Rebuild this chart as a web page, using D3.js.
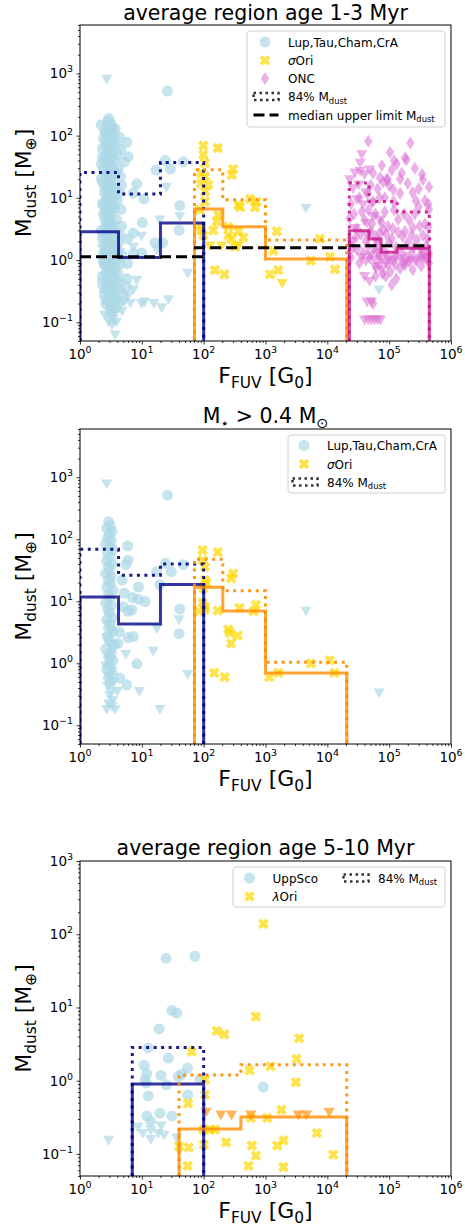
<!DOCTYPE html>
<html>
<head>
<meta charset="utf-8">
<script src="https://cdn.jsdelivr.net/npm/d3@7"></script>
<style>
  body { margin: 0; background: #fff; }
  svg { display: block; font-family: 'DejaVu Sans', sans-serif; }
</style>
</head>
<body>
<svg id="chart" width="465" height="1227"></svg>
<script>
// ---------------- data (F_FUV [G0], M_dust [M_earth]) ----------------

// panel 1 : average region age 1-3 Myr
const lupDet1 = [
  [26,520],[2.9,188],[5.7,78],[6,46],[5.2,38],[24,40],[17,28],[29,29],[47,38],[8.3,16.8],
  [10.8,9.6],[7.3,11.9],[41,7.5],[40,3.0],[10.2,4.0],[7.3,2.7],[16.3,1.9],[21.7,1.9],[5.9,2.2],
  [7.3,1.28],[9.9,1.3],[5.9,0.88],[5.7,0.37],[5.7,0.5],
  [3.1,160],[2.7,140],[3.3,130],[2.5,120],[3.0,115],[2.8,100],[3.5,105],[2.4,90],[3.2,88],[2.6,75],
  [3.0,70],[3.8,72],[2.3,62],[2.9,58],[3.4,55],[2.7,48],[3.1,45],[4.0,50],[2.5,42],[3.6,40],
  [2.8,36],[3.3,33],[2.4,30],[3.0,28],[4.2,30],[2.6,25],[3.5,24],[2.9,21],[3.2,19],[2.3,18],
  [4.5,22],[2.7,16],[3.4,15],[3.0,13],[2.5,12],[3.8,14],[2.8,11],[3.3,10],[2.6,9],[3.1,8.5],
  [4.0,9],[2.4,7.5],[2.9,7],[3.6,6.8],[2.7,6],[3.2,5.5],[2.5,5],[3.0,4.6],[3.9,4.5],[2.8,4],
  [3.4,3.6],[2.6,3.3],[3.1,3],[2.4,2.7],[2.9,2.5],[3.6,2.4],[2.7,2.2],[3.3,2],[2.5,1.8],[3.0,1.7],
  [4.2,1.9],[2.8,1.5],[3.5,1.4],[2.6,1.3],[3.1,1.2],[2.9,1.05],[3.7,1.0],[2.4,0.95],[3.2,0.9],
  [2.7,0.8],[4.4,0.85],[3.0,0.72],[3.5,0.65],[2.6,0.6],[3.2,0.55],[2.8,0.5],[3.9,0.47],[3.0,0.42],
  [2.7,0.37],[3.4,0.33],[3.1,0.28],[2.9,0.24],[3.6,0.21],[3.2,0.18],
  [2.8,170],[3.2,145],[2.6,110],[3.0,95],[3.4,80],[2.7,66],[3.1,62],[2.9,52],[3.3,44],[2.6,38],
  [3.0,34],[2.8,31],[3.2,27],[2.7,23],[3.1,20],[2.5,15],[2.9,14],[3.3,12],[2.7,10.5],[3.0,9.5],
  [3.4,8],[2.8,6.5],[3.0,5.8],[2.6,4.2],[3.2,3.9],[2.9,3.2],[3.3,2.8],[2.8,1.9],[3.2,1.6],[2.7,1.1],
  [2.2,35],[4.6,60],[2.3,8],[4.4,12],[2.2,3],[4.7,3.5],[2.4,1.3],[4.8,1.2],[2.3,0.55],[4.3,0.35],
  [2.5,0.3],[3.8,0.25],[2.2,150],[3.7,130],[4.3,95],[2.3,45],[3.9,26],[4.7,16],[2.2,20],[3.6,11],
  [2.4,5.5],[4.6,6.5],[3.5,3.2],[4.3,2.6],[2.3,2.2],[3.9,1.6],[2.5,0.85],[3.6,0.75],[4.1,0.6],
  [2.3,0.45],[3.5,0.38],[2.6,0.2],[3.9,0.17],[4.9,0.28]
];
const lupUL1 = [
  [2.7,800],[25,14.8],[41,5.0],[19.6,4.4],[17.4,1.45],[7.3,1.6],[9.9,2.4],[55,0.61],[8.3,0.47],
  [7.3,0.33],[5.9,0.26],[9.9,0.2],[11,0.21],[15.6,0.2],[21,0.17],[27,0.23],[3.7,0.062],[3.4,0.14],
  [4500,6.8],[68600,0.33],
  [2.8,3.5],[3.3,2.8],[2.6,2.1],[3.1,1.6],[3.6,1.25],[2.7,1.0],[3.2,0.8],[2.5,0.7],[3.8,0.62],
  [2.9,0.55],[3.4,0.45],[2.6,0.4],[3.0,0.35],[3.7,0.3],[2.8,0.27],[3.3,0.24],[4.1,0.22],[2.7,0.2],
  [3.1,0.18],[3.5,0.16],[2.9,0.15],[3.3,0.13],[3.0,0.12],[3.4,0.11],[3.7,0.14],[4.5,0.19],
  [5.2,0.21],[6.5,0.2],
  [2.3,1.5],[4.4,1.3],[2.4,0.85],[4.2,0.9],[2.3,0.33],[4.6,0.42],[2.5,0.13],[3.9,0.1],[2.4,0.23],
  [4.8,0.15],[3.3,0.09],[2.9,0.1]
];
const sigDet1 = [
  [99,69],[169,63],[99,49],[105,36],[300,29],[284,23.5],[91,25],[105,22],[119,16.2],[90,17],
  [105,12.6],[105,8.7],[365,7.7],[387,7.1],[562,9.6],[676,7.1],[720,8.7],[87,6.4],[172,5.3],
  [143,3.0],[93,3.0],[99,2.5],[251,3.4],[365,2.9],[438,2.3],[284,2.2],[321,1.64],[1520,2.9],
  [1340,1.41],[7600,2.2],[5450,0.98],[11000,1.13],[13300,0.71],[152,0.69],[216,0.59],[1180,0.59],
  [1610,0.69],[163,4.15],[88,3.4],[251,2.5]
];
const sigUL1 = [[126,1.68],[195,1.68],[365,1.68],[1870,0.42]];
const oncDet1 = [
  [46000,81],[220000,76],[103000,54],[180000,44],[132000,35],[76000,33],[95000,20],[71000,21],
  [350000,19.5],[117000,13.5],[150000,11.9],[240000,12.2],[430000,7.9],[120000,6.4],[300000,7.2],
  [55000,8.7],[117000,8.7],[46000,6.4],[40000,4.4],[210000,4.4],[23000,4.7],[430000,3.4],
  [310000,3.5],[230000,2.5],[165000,2.4],[110000,2.2],[110000,0.40],[55000,0.20],[150000,0.73],
  [180000,0.83],[360000,1.28],[71000,0.88],
  [30000,3.2],[35000,2.6],[42000,2.0],[50000,2.9],[60000,2.4],[65000,1.8],[80000,3.0],[90000,2.6],
  [100000,1.9],[130000,1.6],[140000,2.8],[200000,1.9],[250000,1.6],[280000,2.1],[330000,1.5],
  [400000,1.7],[26000,1.6],[38000,1.3],[48000,1.1],[57000,1.5],[68000,1.2],[85000,1.4],[95000,1.1],
  [125000,1.2],[160000,1.3],[190000,1.1],[230000,1.3],[270000,1.0],[320000,1.2],[380000,1.1],
  [440000,1.3],[33000,0.9],[62000,0.75],[78000,0.6],[88000,0.55],[105000,0.65],[130000,0.5],
  [170000,0.9],[210000,0.95],[60000,5.5],[75000,4.0],[85000,6.0],[95000,3.5],[140000,4.5],
  [175000,5.5],[260000,5.5],[380000,3.8],[440000,6.5],[33000,10],[45000,12],[65000,14],[85000,10],
  [100000,16],[200000,17],[270000,9],[55000,25],[80000,18],[160000,25],[260000,30],[340000,24],
  [440000,15],[120000,40],[91000,19.5],[190000,41],
  [24000,8],[27000,5.5],[36000,6],[50000,16],[70000,10],[110000,28],[150000,20],[300000,14],
  [380000,9],[24000,1.1],[29000,2.3],[45000,1.7],[53000,3.8],[70000,2.7],[115000,3.2],[180000,2.9],
  [240000,3.3],[350000,2.5],[420000,2.2],[60000,0.55],[125000,0.85],[240000,0.7],[330000,0.8],
  [440000,0.9]
];
const oncUL1 = [
  [36000,49],[34000,36],[23000,19.5],[28000,25],[34000,26.5],[40000,23.5],[48000,28],[30000,9.3],
  [38000,7.7],[52000,8.2],[55000,5.0],[71000,4.4],[44000,3.9],[59000,0.78],[40000,0.54],[76000,0.69],
  [44000,0.21],[52000,0.21],[40000,0.108],[46000,0.108],[52000,0.108],[58000,0.108],[65000,0.108],
  [72000,0.108],[26000,14],[32000,16],[42000,12],[25000,2.0],[30000,1.4],[36000,1.1],[42000,0.95],
  [50000,1.2],[58000,1.0],[66000,1.3],[75000,1.05],[90000,0.9],[105000,1.0],[120000,0.95],
  [150000,1.05],[180000,0.9],[220000,1.0],[280000,0.95],[350000,1.05],[420000,1.0],[28000,3.2],
  [45000,2.5],[62000,2.0],[48000,0.45],[95000,0.8]
];
// binned medians / 84th percentiles
const lupEdges = [1, 4.2, 20, 100];
const lupMed1 = [2.86, 1.1, 3.95];
const lupP84_1 = [25.6, 11.5, 37];
const sigEdges = [71, 204, 1000, 20600];
const sigMed1 = [6.6, 3.44, 1.04];
const sigP84_1 = [28.3, 9.3, 2.1];
const oncEdges = [22700, 47200, 73900, 135000, 446000];
const oncMed = [2.96, 2.18, 1.33, 1.55];
const oncP84 = [17.3, 8.7, 8.7, 5.9];
const upperLimitMed1 = [[1, 100, 1.13], [70, 20600, 1.58], [22700, 446000, 1.7]];

// panel 2 : M* > 0.4 Msun
const lupDet2 = [
  [26,515],[2.9,192],[5.9,78],[6.0,46],[5.5,39],[24,41],[30,30],[47,39],[17.4,30],[4.8,22],
  [8.8,17],[5.2,13.5],[7.1,11.5],[11.3,9.9],[19.6,18.4],[41,7.5],[5.0,8.2],[6.0,6.9],[40,3.0],
  [7.3,2.7],[6.0,2.6],[4.1,2.1],[8.3,0.98],[5.7,0.45],[4.4,0.58],[4.3,3.2],[8.8,10.8],[6.9,7.3],
  [3.1,165],[2.7,150],[3.3,135],[3.0,120],[2.8,105],[3.2,95],[2.6,85],[3.0,75],[3.4,68],[2.8,60],
  [3.1,52],[2.7,45],[3.3,40],[2.9,36],[3.0,31],[2.6,28],[3.2,25],[2.9,22],[3.1,19],[2.7,17],
  [3.4,15],[2.9,13],[3.0,11],[2.6,9.5],[3.2,8.5],[2.8,7.5],[3.0,6.5],[3.3,5.5],[2.7,5.0],[3.1,4.3],
  [2.9,3.7],[3.4,3.2],[2.8,2.7],[3.0,2.3],[3.6,2.0],[2.6,1.7],[3.2,1.45],[2.9,1.25],[3.4,1.1],
  [3.0,0.95],[2.7,0.8],[3.3,0.7],[2.9,0.58],[3.1,0.5]
];
const lupUL2 = [
  [2.7,776],[40,5.0],[17.4,3.6],[5.5,1.38],[15.3,1.56],[55,0.66],[9.1,0.35],[19.6,0.18],[4500,6.9],
  [69000,0.33],[4.0,0.35],[2.7,0.18],[3.7,0.18],
  [2.9,4.2],[3.2,3.3],[2.7,2.6],[3.0,2.0],[3.4,1.6],[2.8,1.3],[3.1,1.1],[2.6,0.9],[3.3,0.75],
  [2.9,0.62],[3.5,0.5],[2.8,0.42],[3.2,0.35],[3.0,0.3],[3.4,0.25],[2.9,0.22],[3.3,0.2]
];
const sigDet2 = [
  [96,67],[169,62],[96,46],[105,36],[105,22],[111,19.6],[99,16.3],[300,28],[278,23.5],[96,9.5],
  [105,7.3],[84,6.9],[105,8.2],[169,7.1],[380,7.8],[640,6.9],[700,8.8],[250,3.5],[265,3.1],
  [356,2.8],[278,2.1],[149,0.70],[220,0.6],[1150,0.6],[1610,0.70],[5450,1.0],[11000,1.12],[13000,0.70]
];
const lupMed2 = [11.7, 4.3, 18.6];
const lupP84_2 = [69, 26.4, 40];
const sigMed2 = [16.9, 7.0, 0.70];
const sigP84_2 = [47.7, 14.8, 1.04];

// panel 3 : average region age 5-10 Myr
const uscDet = [
  [24.6,47],[72,50],[30.5,9.1],[36.7,8.4],[19,5.1],[12.7,2.8],[26.8,2.04],[10.9,1.62],[55,1.49],
  [12,1.25],[20.4,1.18],[39,1.14],[44,1.23],[11.3,1.03],[11.7,0.93],[25,0.88],[87,1.05],[920,0.82],
  [12.7,0.62],[55,0.64],[19.6,0.36],[30.5,0.33],[12,0.33],[13.9,0.28]
];
const uscUL = [
  [2.9,0.153],[8.6,0.23],[10.4,0.19],[14,0.21],[20.4,0.24],[18.5,0.19],[22.9,0.18],[14,0.157],[36.6,0.165]
];
const lamDet = [
  [925,139],[700,7.5],[163,4.8],[216,4.3],[3500,3.8],[64,2.5],[3170,1.98],[550,1.38],[1200,1.57],
  [105,1.03],[3100,0.95],[105,0.64],[56,0.49],[1810,0.40],[99,0.215],[127,0.215],[152,0.215],
  [580,0.31],[1070,0.31],[230,0.144],[101,0.134],[40,0.127],[57,0.123],[600,0.13],[1550,0.13],
  [1960,0.153],[6800,0.193],[12500,0.098],[700,0.095],[55,0.069],[530,0.069],[1950,0.066]
];
const lamUL = [[109,0.37],[189,0.34],[283,0.34],[580,0.34],[3400,0.34],[4600,0.34],[10700,0.37]];
const uscEdges = [7, 100];
const uscMed = [0.9];
const uscP84 = [2.85];
const lamEdges = [40, 400, 20600];
const lamMed = [0.22, 0.32];
const lamP84 = [1.2, 1.65];

// ---------------- styling ----------------
const C = {
  lup: '#add8e6', gold: '#ffd700', orange: '#ff8c00', onc: '#da70d6',
  blue: '#00008b', navy: '#000080', mag: '#c71585'
};

const markerX = (() => {
  const a = 5.6, t = 2.0;
  const pts = [[-t,-a],[t,-a],[t,-t],[a,-t],[a,t],[t,t],[t,a],[-t,a],[-t,t],[-a,t],[-a,-t],[-t,-t]]
    .map(([px, py]) => [(px - py) / Math.SQRT2, (px + py) / Math.SQRT2]);
  return 'M' + pts.map(p => p.join(',')).join('L') + 'Z';
})();
const shapes = {
  circle: d3.symbol().type(d3.symbolCircle).size(95)(),
  tri: 'M-5.6,-4.6L5.6,-4.6L0,5.2Z',
  x: markerX,
  diamond: 'M0,-6.5L4.2,0L0,6.5L-4.2,0Z'
};

const svg = d3.select('#chart');
const X0 = 80, X1 = 451;

function rich(sel, parts, size) {
  let shift = 0;
  parts.forEach(([t, kind]) => {
    const ts = sel.append('tspan').text(t);
    let target = 0, fs = size;
    if (kind === 'sub') { target = size * 0.24; fs = size * 0.7; }
    if (kind === 'sup') { target = -size * 0.45; fs = size * 0.7; }
    if (kind === 'it') ts.attr('font-style', 'italic');
    ts.attr('dy', target - shift).attr('font-size', fs);
    shift = target;
  });
}

const isPow10 = v => Math.abs(Math.log10(v) - Math.round(Math.log10(v))) < 1e-9;

function stepPoints(edges, values, base) {
  const pts = [[edges[0], base]];
  values.forEach((v, i) => { pts.push([edges[i], v]); pts.push([edges[i + 1], v]); });
  pts.push([edges[edges.length - 1], base]);
  return pts;
}

function drawPanel(p, idx) {
  const x = d3.scaleLog().domain([1, 1e6]).range([X0, X1]);
  const y = d3.scaleLog().domain([0.05, p.yMax]).range([p.bottom, p.top]);
  const g = svg.append('g');

  svg.append('clipPath').attr('id', 'clip' + idx)
    .append('rect').attr('x', X0).attr('y', p.top).attr('width', X1 - X0).attr('height', p.bottom - p.top);
  const plot = g.append('g').attr('clip-path', `url(#clip${idx})`);

  // scatter layers
  p.layers.forEach(s => {
    plot.append('g').selectAll('path').data(s.data).join('path')
      .attr('d', shapes[s.shape])
      .attr('transform', d => `translate(${x(d[0])},${y(d[1])})`)
      .attr('fill', s.color).attr('fill-opacity', s.alpha);
  });

  const line = d3.line().x(d => x(d[0])).y(d => y(d[1]));
  p.steps.forEach(st => {
    plot.append('path')
      .attr('d', line(stepPoints(st.edges, st.values, 0.05)))
      .attr('fill', 'none').attr('stroke', st.color).attr('stroke-opacity', st.alpha || 1)
      .attr('stroke-width', 3).attr('stroke-dasharray', st.dash || null);
  });
  (p.ul || []).forEach(s => {
    plot.append('line')
      .attr('x1', x(s[0])).attr('x2', x(s[1])).attr('y1', y(s[2])).attr('y2', y(s[2]))
      .attr('stroke', '#000').attr('stroke-width', 3).attr('stroke-dasharray', '11,5');
  });

  // axes
  const xt = x.ticks(), yt = y.ticks();
  const xAxis = g.append('g').attr('transform', `translate(0,${p.bottom})`);
  xAxis.call(d3.axisBottom(x).tickValues(xt.filter(isPow10)).tickFormat('').tickSizeInner(3.5).tickSizeOuter(0));
  xAxis.append('g').call(d3.axisBottom(x).tickValues(xt.filter(v => !isPow10(v))).tickFormat('').tickSize(2));
  const yAxis = g.append('g').attr('transform', `translate(${X0},0)`);
  yAxis.call(d3.axisLeft(y).tickValues(yt.filter(isPow10)).tickFormat('').tickSizeInner(3.5).tickSizeOuter(0));
  yAxis.append('g').call(d3.axisLeft(y).tickValues(yt.filter(v => !isPow10(v))).tickFormat('').tickSize(2));
  g.selectAll('.domain').remove();
  g.selectAll('.tick line').attr('stroke', '#000').attr('stroke-width', 0.8);

  xt.filter(isPow10).forEach(v => {
    const e = Math.round(Math.log10(v));
    const t = g.append('text').attr('x', x(v)).attr('y', p.bottom + 18).attr('text-anchor', 'middle');
    rich(t, [['10', 'n'], [String(e).replace('-', '\u2212'), 'sup']], 13.5);
  });
  yt.filter(isPow10).forEach(v => {
    const e = Math.round(Math.log10(v));
    const t = g.append('text').attr('x', X0 - 7).attr('y', y(v) + 5).attr('text-anchor', 'end');
    rich(t, [['10', 'n'], [String(e).replace('-', '\u2212'), 'sup']], 13.5);
  });

  g.append('rect').attr('x', X0).attr('y', p.top).attr('width', X1 - X0).attr('height', p.bottom - p.top)
    .attr('fill', 'none').attr('stroke', '#000').attr('stroke-width', 1);

  // titles & labels
  const tt = g.append('text').attr('x', (X0 + X1) / 2).attr('y', p.titleY).attr('text-anchor', 'middle');
  rich(tt, p.title, 20.5);
  const xl = g.append('text').attr('x', (X0 + X1) / 2).attr('y', p.bottom + 42).attr('text-anchor', 'middle');
  rich(xl, [['F', 'n'], ['FUV', 'sub'], [' [G', 'n'], ['0', 'sub'], [']', 'n']], 22);
  const yl = g.append('text').attr('text-anchor', 'middle')
    .attr('transform', `translate(31,${(p.top + p.bottom) / 2}) rotate(-90)`);
  rich(yl, [['M', 'n'], ['dust', 'sub'], [' [M', 'n'], ['\u2295', 'sub'], [']', 'n']], 22);

  // legend
  const L = p.legend;
  const lg = g.append('g');
  lg.append('rect').attr('x', L.x).attr('y', L.y).attr('width', L.w).attr('height', L.h).attr('rx', 3)
    .attr('fill', '#fff').attr('fill-opacity', 0.8).attr('stroke', '#d0d0d0');
  L.items.forEach(it => {
    if (it.kind === 'marker') {
      lg.append('path').attr('d', shapes[it.shape]).attr('transform', `translate(${it.mx},${it.y})`)
        .attr('fill', it.color).attr('fill-opacity', it.alpha);
    } else if (it.kind === 'dotbox') {
      lg.append('rect').attr('x', it.mx - 12.5).attr('y', it.y - 3.5).attr('width', 25).attr('height', 7)
        .attr('fill', 'none').attr('stroke', '#333').attr('stroke-width', 2.5).attr('stroke-dasharray', '2.5,3.5');
    } else if (it.kind === 'dash') {
      lg.append('line').attr('x1', it.mx - 12.5).attr('x2', it.mx + 12.5).attr('y1', it.y).attr('y2', it.y)
        .attr('stroke', '#000').attr('stroke-width', 3).attr('stroke-dasharray', '11,5');
    }
    const t = lg.append('text').attr('x', it.tx).attr('y', it.y + 4.5);
    rich(t, it.label, 12);
  });
}

const lupLayer = (d, shape) => ({ data: d, shape, color: C.lup, alpha: 0.7 });
const goldLayer = (d, shape) => ({ data: d, shape, color: C.gold, alpha: 0.7 });
const oncLayer = (d, shape) => ({ data: d, shape, color: C.onc, alpha: 0.55 });
const med = (edges, values, color) => ({ edges, values, color, alpha: 0.8 });
const p84 = (edges, values, color) => ({ edges, values, color, alpha: 0.9, dash: '3,4.5' });

const lblLup = [['Lup,Tau,Cham,CrA', 'n']];
const lblSig = [['\u03c3', 'it'], ['Ori', 'n']];
const lbl84 = [['84% M', 'n'], ['dust', 'sub']];

const panels = [
  {
    top: 25, bottom: 341, yMax: 6000, titleY: 20,
    title: [['average region age 1-3 Myr', 'n']],
    layers: [lupLayer(lupDet1, 'circle'), lupLayer(lupUL1, 'tri'),
             goldLayer(sigDet1, 'x'), goldLayer(sigUL1, 'tri'),
             oncLayer(oncDet1, 'diamond'), oncLayer(oncUL1, 'tri')],
    steps: [med(lupEdges, lupMed1, C.blue), p84(lupEdges, lupP84_1, C.navy),
            med(sigEdges, sigMed1, C.orange), p84(sigEdges, sigP84_1, C.orange),
            med(oncEdges, oncMed, C.mag), p84(oncEdges, oncP84, C.mag)],
    ul: upperLimitMed1,
    legend: { x: 247, y: 31, w: 198, h: 96, items: [
      { kind: 'marker', shape: 'circle', color: C.lup, alpha: 0.7, mx: 265, tx: 288, y: 42, label: lblLup },
      { kind: 'marker', shape: 'x', color: C.gold, alpha: 0.7, mx: 265, tx: 288, y: 60.5, label: lblSig },
      { kind: 'marker', shape: 'diamond', color: C.onc, alpha: 0.55, mx: 265, tx: 288, y: 78.5, label: [['ONC', 'n']] },
      { kind: 'dotbox', mx: 266, tx: 288, y: 96.5, label: lbl84 },
      { kind: 'dash', mx: 266, tx: 288, y: 115, label: [['median upper limit M', 'n'], ['dust', 'sub']] }
    ]}
  },
  {
    top: 429, bottom: 744, yMax: 6000, titleY: 423,
    title: [['M', 'n'], ['\u22c6', 'sub'], [' > 0.4 M', 'n'], ['\u2299', 'sub']],
    layers: [lupLayer(lupDet2, 'circle'), lupLayer(lupUL2, 'tri'), goldLayer(sigDet2, 'x')],
    steps: [med(lupEdges, lupMed2, C.blue), p84(lupEdges, lupP84_2, C.navy),
            med(sigEdges, sigMed2, C.orange), p84(sigEdges, sigP84_2, C.orange)],
    legend: { x: 288, y: 435, w: 157, h: 58, items: [
      { kind: 'marker', shape: 'circle', color: C.lup, alpha: 0.7, mx: 304, tx: 327, y: 445.5, label: lblLup },
      { kind: 'marker', shape: 'x', color: C.gold, alpha: 0.7, mx: 304, tx: 327, y: 464, label: lblSig },
      { kind: 'dotbox', mx: 305, tx: 327, y: 482, label: lbl84 }
    ]}
  },
  {
    top: 861, bottom: 1176, yMax: 1000, titleY: 855,
    title: [['average region age 5-10 Myr', 'n']],
    layers: [lupLayer(uscDet, 'circle'), lupLayer(uscUL, 'tri'),
             goldLayer(lamDet, 'x'), { data: lamUL, shape: 'tri', color: C.orange, alpha: 0.65 }],
    steps: [med(uscEdges, uscMed, C.blue), p84(uscEdges, uscP84, C.navy),
            med(lamEdges, lamMed, C.orange), p84(lamEdges, lamP84, C.orange)],
    legend: { x: 233, y: 867, w: 212, h: 40, items: [
      { kind: 'marker', shape: 'circle', color: C.lup, alpha: 0.7, mx: 249.5, tx: 272.5, y: 878, label: [['UppSco', 'n']] },
      { kind: 'marker', shape: 'x', color: C.gold, alpha: 0.7, mx: 249.5, tx: 272.5, y: 896.5, label: [['\u03bb', 'it'], ['Ori', 'n']] },
      { kind: 'dotbox', mx: 356, tx: 378, y: 878, label: lbl84 }
    ]}
  }
];

panels.forEach(drawPanel);
</script>
</body>
</html>
